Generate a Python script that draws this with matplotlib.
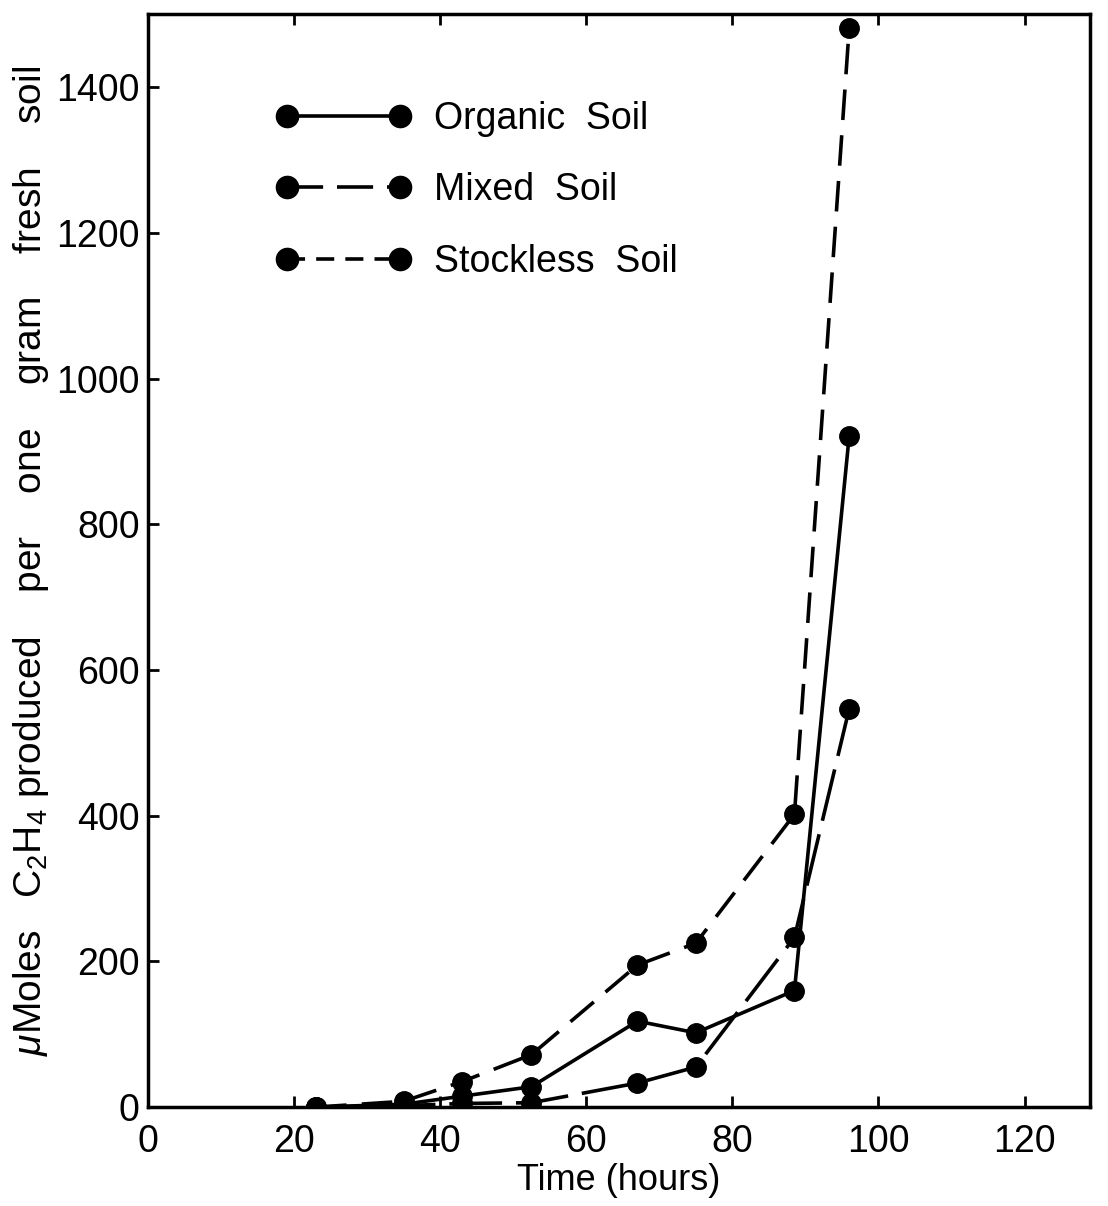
import matplotlib
matplotlib.use("Agg")
import matplotlib.pyplot as plt
from matplotlib.lines import Line2D

plt.rcParams['font.family'] = ['Liberation Sans', 'DejaVu Sans']
plt.rcParams['mathtext.fontset'] = 'custom'
plt.rcParams['mathtext.rm'] = 'Liberation Sans'
plt.rcParams['mathtext.it'] = 'Liberation Sans:italic'
plt.rcParams['lines.scale_dashes'] = False

# Datos
horas = [23, 35, 43, 52.5, 67, 75, 88.5, 96]
organico = [0, 4, 15, 28, 118, 102, 160, 922]
mixto = [0, 2, 5, 6, 33, 55, 233, 547]
sin_ganado = [0, 8, 35, 72, 195, 225, 402, 1482]

etiquetas = ["Organic  Soil", "Mixed  Soil", "Stockless  Soil"]
xticks = [0, 20, 40, 60, 80, 100, 120]
yticks = [0, 200, 400, 600, 800, 1000, 1200, 1400]

fig = plt.figure(figsize=(11.08, 12.06), dpi=100)
ax = fig.add_axes([0.1336, 0.082, 0.8504, 0.906])

estilo = dict(color="black", lw=2.6, marker="o", mfc="black", mec="black")
ax.plot(horas, organico, ls="-", ms=14, **estilo)
ax.plot(horas, mixto, dashes=(38, 10), ms=14, **estilo)
ax.plot(horas, sin_ganado, dashes=(22, 11), ms=14, **estilo)

ax.set_xlim(0, 129)
ax.set_ylim(0, 1500)
ax.set_xticks(xticks)
ax.set_yticks(yticks)
ax.tick_params(direction="in", length=8, width=2, labelsize=27, top=True, right=False)
ax.tick_params(axis="x", pad=12)
ax.tick_params(axis="y", pad=6)
for s in ax.spines.values():
    s.set_linewidth(2.5)

ax.set_xlabel("Time (hours)", fontsize=26, labelpad=2)
ax.set_ylabel(r"$\mu$Moles   C$_2$H$_4$ produced    per    one    gram    fresh    soil",
              fontsize=28, labelpad=4)

# Leyenda manual con marcadores en ambos extremos
handles = [
    Line2D([], [], ls="-", ms=16, **estilo),
    Line2D([], [], dashes=(26, 10), ms=16, **estilo),
    Line2D([], [], dashes=(13, 8), ms=16, **estilo),
]
leg = ax.legend(handles, etiquetas, loc="upper left", bbox_to_anchor=(0.10, 0.952),
                frameon=False, fontsize=27, numpoints=2, handlelength=3.6,
                labelspacing=0.95, handletextpad=0.6)

fig.savefig("out.png", dpi=100)
